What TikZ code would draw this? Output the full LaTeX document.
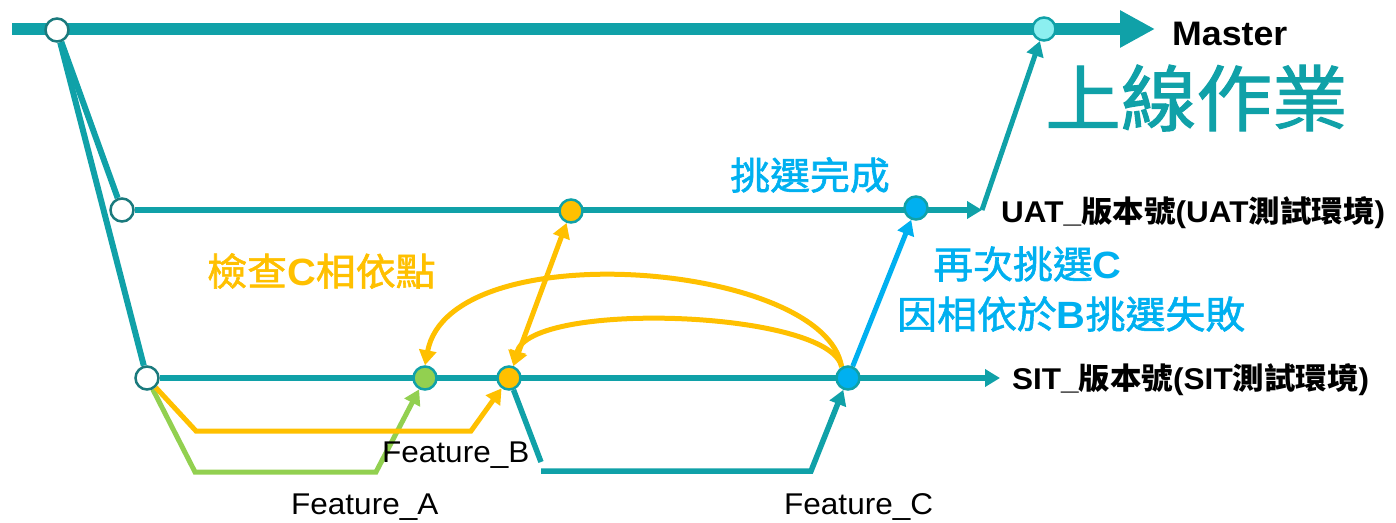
\documentclass[tikz,border=0pt]{standalone}
\usepackage{fontspec}
\setmainfont{Liberation Sans}
\newfontfamily\cjk{Noto Sans CJK TC}
\newfontfamily\cjkm[FakeBold=1.5]{Noto Sans CJK TC}
\usetikzlibrary{arrows.meta}
\definecolor{tealc}{HTML}{10A1A8}
\definecolor{tealdark}{HTML}{1A7A7D}
\definecolor{yel}{HTML}{FFC000}
\definecolor{grn}{HTML}{92D050}
\definecolor{blu}{HTML}{00B0F0}
\definecolor{cyanl}{HTML}{8CEFF0}
\newcommand\zh[1]{{\cjkm #1}}
\newcommand\zhb[1]{{\cjk\bfseries #1}}
\pgfdeclarelayer{bg}
\pgfsetlayers{bg,main}
\tikzset{
  commit/.style={circle, minimum size=23pt, inner sep=0pt, line width=2.5pt, draw=tealc},
  opencommit/.style={commit, fill=white, draw=tealdark},
  txt/.style={inner sep=0pt, xscale=1.05, transform shape},
  branch/.style={draw=tealc, line width=6pt},
  smalltip/.style={-{Triangle[length=15pt,width=17pt]}},
  yline/.style={draw=yel, line width=5pt},
  gline/.style={draw=grn, line width=5pt},
  bline/.style={draw=blu, line width=5pt},
}
\begin{document}
\begin{tikzpicture}[x=1pt,y=-1pt]
\useasboundingbox (0,0) rectangle (1396,522);
% commits
\node[opencommit] (M0) at (57,30) {};
\node[commit, fill=cyanl] (M1) at (1044,29) {};
\node[opencommit] (U0) at (122,210) {};
\node[commit, fill=yel] (YU) at (571,211) {};
\node[commit, fill=blu] (BU) at (916,208) {};
\node[opencommit] (S0) at (147,378) {};
\node[commit, fill=grn] (GA) at (425,378) {};
\node[commit, fill=yel] (YB) at (509,378) {};
\node[commit, fill=blu] (BC) at (848,378) {};
% helper coordinates
\coordinate (mstart) at (12,29);
\coordinate (mend) at (1155,29);
\coordinate (uend) at (982,210);
\coordinate (send) at (1000,378);
\coordinate (fa1) at (195,472);
\coordinate (fa2) at (376,472);
\coordinate (fb1) at (196,431);
\coordinate (fb2) at (471,431);
\coordinate (fc0) at (541,462);
\coordinate (fc1) at (541,471);
\coordinate (fc2) at (811,471);
% labels
\node[txt, anchor=base west, font=\fontsize{34}{36}\selectfont\bfseries] (lmaster) at (1172,45) {Master};
\node[txt, anchor=west, text=tealc, font=\fontsize{72}{80}\selectfont] (lgo) at (1045,98) {\zh{上線作業}};
\node[txt, anchor=base west, font=\fontsize{30}{34}\selectfont\bfseries] (luat) at (1001,222) {UAT\_\zhb{版本號}(UAT\zhb{測試環境})};
\node[txt, anchor=base west, font=\fontsize{30}{34}\selectfont\bfseries] (lsit) at (1012,389) {SIT\_\zhb{版本號}(SIT\zhb{測試環境})};
\node[txt, anchor=west, text=blu, font=\fontsize{38}{42}\selectfont] (ldone) at (730,175) {\zh{挑選完成}};
\node[txt, anchor=west, text=blu, font=\fontsize{38}{42}\selectfont] (lagain) at (933,264) {\zh{再次挑選}\textbf{C}};
\node[txt, anchor=west, text=blu, font=\fontsize{38}{42}\selectfont] (lfail) at (897,314) {\zh{因相依於}\textbf{B}\zh{挑選失敗}};
\node[txt, anchor=west, text=yel, font=\fontsize{38}{42}\selectfont] (lcheck) at (207,271) {\zh{檢查}\textbf{C}\zh{相依點}};
\node[txt, anchor=base west, font=\fontsize{30}{34}\selectfont] (lfa) at (291,514) {Feature\_A};
\node[txt, anchor=base west, font=\fontsize{30}{34}\selectfont] (lfb) at (382,462) {Feature\_B};
\node[txt, anchor=base west, font=\fontsize{30}{34}\selectfont] (lfc) at (784,514) {Feature\_C};
% connectors
\begin{pgfonlayer}{bg}
\draw[draw=tealc, line width=12pt, -{Triangle[length=35pt,width=35pt]}] (mstart) -- (mend);
\draw[branch] (M0) -- (U0);
\draw[branch] (M0) -- (S0);
\draw[branch, smalltip] (U0) -- (uend);
\draw[branch, line width=5pt, smalltip] (uend) -- (M1);
\draw[branch, smalltip] (S0) -- (send);
\draw[gline, smalltip] (S0) -- (fa1) -- (fa2) -- (GA);
\draw[yline, smalltip] (S0) -- (fb1) -- (fb2) -- (YB);
\draw[branch, line width=5.5pt] (YB) -- (fc0);
\draw[branch, line width=5.5pt, smalltip] (fc1) -- (fc2) -- (BC);
\draw[yline, {Triangle[length=15pt,width=17pt]}-{Triangle[length=15pt,width=17pt]}] (YB) -- (YU);
\draw[yline, smalltip] (BC.120) .. controls (825,262) and (450,232) .. (GA.north);
\draw[yline, smalltip] (BC.120) .. controls (830,310) and (530,300) .. (YB.70);
\draw[bline, smalltip] (BC) -- (BU);
\end{pgfonlayer}
\end{tikzpicture}
\end{document}
